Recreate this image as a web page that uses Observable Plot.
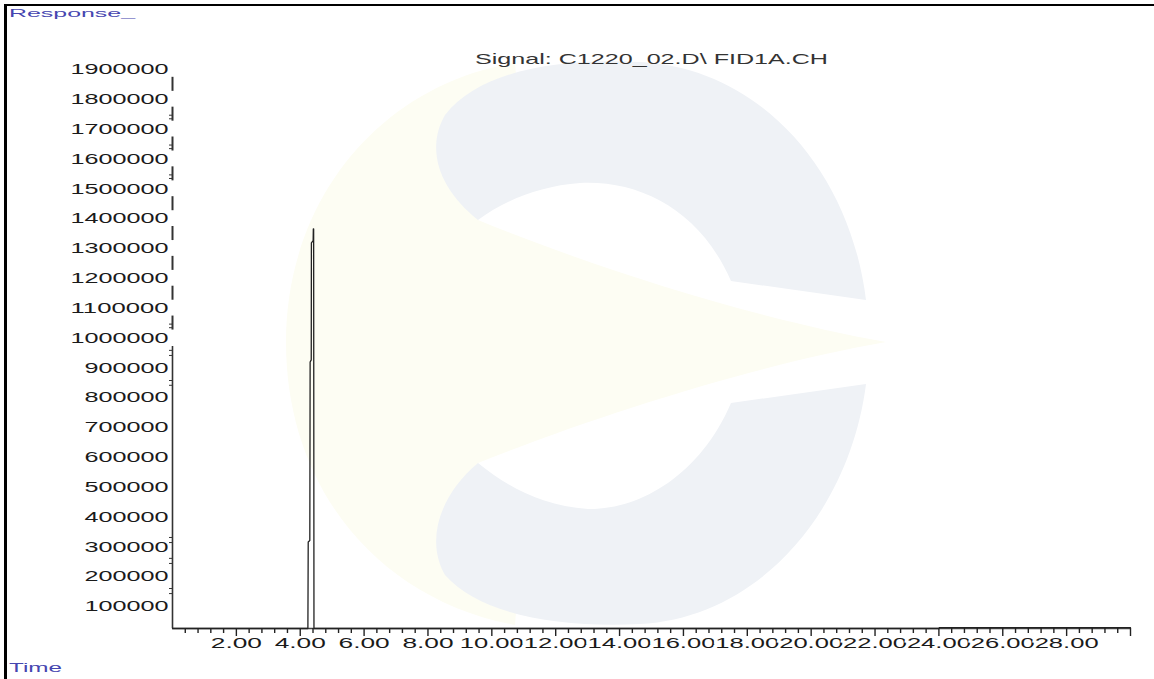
<!DOCTYPE html>
<html>
<head>
<meta charset="utf-8">
<script src="https://cdn.jsdelivr.net/npm/d3@7"></script>
<script src="https://cdn.jsdelivr.net/npm/@observablehq/plot@0.6"></script>
<style>
  html, body { margin: 0; padding: 0; overflow: hidden; background: #fff; }
  #chart svg { display: block; }
</style>
</head>
<body>
<div id="chart"></div>
<script>
// ---- data ----
const timeMin = [0, 4.24, 4.25, 4.30, 4.31, 4.345, 4.35, 4.405, 4.41, 4.42, 4.43, 24.0, 24.01, 30.0];
const responseVal = [0, 0, 290000, 295000, 893000, 900000, 1292000, 1300000, 1339000, 1339000, 0, 0, 3000, 3000];

const yTickLabels = [100000, 200000, 300000, 400000, 500000, 600000, 700000, 800000, 900000, 1000000,
  1100000, 1200000, 1300000, 1400000, 1500000, 1600000, 1700000, 1800000, 1900000];
const yAxisFragments = [1000000, 1100000, 1200000, 1300000, 1400000, 1500000, 1600000, 1700000, 1800000];
const yMinorTicks = [117000, 134000, 218000, 235000, 288000, 305000, 815000, 831000, 915000, 932000,
  1008000, 1020000, 1508000, 1520000, 1608000, 1620000, 1708000, 1720000];
const xMajorTicks = [2, 4, 6, 8, 10, 12, 14, 16, 18, 20, 22, 24, 26, 28, 30];
const xMinorTicks = d3.range(1, 75).map(i => +(i * 0.4).toFixed(1)).filter(v => Math.abs(v / 2 - Math.round(v / 2)) > 1e-6);

const titleText = "Signal: C1220_02.D\\ FID1A.CH";
const yTitle = "Response_";
const xTitle = "Time";

const signal = timeMin.map((t, i) => ({t, r: responseVal[i]}));

const chart = Plot.plot({
  width: 1154,
  height: 679,
  marginLeft: 172,
  marginRight: 24,
  marginTop: 61,
  marginBottom: 51,
  style: {fontFamily: "'Liberation Sans', Arial, sans-serif", background: "white"},
  x: {domain: [0, 30], axis: null},
  y: {domain: [0, 1900000], axis: null},
  marks: [
    Plot.ruleY([0], {x1: 0, x2: 30, stroke: "#444", strokeWidth: 1.6}),
    Plot.ruleX([0], {y1: 0, y2: 945000, stroke: "#333", strokeWidth: 1.6}),
    Plot.ruleX(yAxisFragments, {x: 0, y1: d => d, y2: d => d + 47000, stroke: "#333", strokeWidth: 2}),
    Plot.axisY(yMinorTicks, {anchor: "left", tickSize: 3, tickFormat: () => "", stroke: "#333", label: null}),
    Plot.axisY(yTickLabels, {anchor: "left", tickSize: 0, tickPadding: 4, dy: 8, fontSize: 14.5,
      fill: "#1a1a1a", tickFormat: d => String(d), label: null}),
    Plot.axisX(xMinorTicks, {anchor: "bottom", tickSize: 5, tickFormat: () => "", stroke: "#222", strokeWidth: 1.4, label: null}),
    Plot.axisX(xMajorTicks, {anchor: "bottom", tickSize: 8, tickPadding: 2, fontSize: 14, fill: "#1a1a1a",
      stroke: "#222", strokeWidth: 1.4,
      tickFormat: d => d === 30 ? "" : d3.format(".2f")(d), label: null}),
    Plot.line(signal, {x: "t", y: "r", stroke: "#222", strokeWidth: 1.3})
  ]
});

document.getElementById("chart").appendChild(chart);
const svg = d3.select(chart);

// stretch tick labels like the original bitmap
svg.selectAll('g[aria-label="x-axis tick label"] text').each(function () {
  const s = this.textContent;
  if (!s) return;
  this.setAttribute("textLength", 12.8 * s.length);
  this.setAttribute("lengthAdjust", "spacingAndGlyphs");
  this.style.paintOrder = "stroke";
  this.style.stroke = "white";
  this.style.strokeWidth = "4px";
});
svg.selectAll('g[aria-label="y-axis tick label"] text').each(function () {
  const s = this.textContent;
  if (!s) return;
  this.setAttribute("textLength", 14 * s.length);
  this.setAttribute("lengthAdjust", "spacingAndGlyphs");
});

// faint watermark behind everything
const wm = svg.insert("g", ":first-child").attr("aria-label", "watermark");
wm.append("path").attr("fill", "#fdfdf3")
  .attr("d", "M515,63 C380,85 286,200 286,342 C286,490 380,600 515,625 L520,560 L478,463 C600,414 760,364 886,342 C760,320 600,270 478,220 L520,120 Z");
wm.append("path").attr("fill", "#eff2f6")
  .attr("d", "M478,220 C440,190 425,150 445,115 C480,70 560,58 640,62 C760,68 850,170 866,300 L731,281 C700,210 640,180 580,183 C540,186 505,200 478,220 Z");
wm.append("path").attr("fill", "#eff2f6")
  .attr("d", "M478,463 C440,495 425,540 445,575 C480,615 560,628 640,624 C760,618 850,510 866,384 L731,403 C700,475 640,510 588,509 C540,506 505,485 478,463 Z");

// frame lines (top & left)
svg.append("line").attr("x1", 4).attr("x2", 1154).attr("y1", 5).attr("y2", 5).attr("stroke", "#000").attr("stroke-width", 2.2);
svg.append("line").attr("x1", 5.5).attr("x2", 5.5).attr("y1", 4).attr("y2", 679).attr("stroke", "#000").attr("stroke-width", 3);

// texts
svg.append("text").text(titleText)
  .attr("x", 475).attr("y", 64).attr("font-size", 15).attr("fill", "#333").attr("text-anchor", "start")
  .attr("textLength", 353).attr("lengthAdjust", "spacingAndGlyphs");
svg.append("text").text(yTitle)
  .attr("x", 9).attr("y", 17).attr("font-size", 11.5).attr("fill", "#4646b0").attr("text-anchor", "start")
  .attr("textLength", 126).attr("lengthAdjust", "spacingAndGlyphs");
svg.append("text").text(xTitle)
  .attr("x", 9).attr("y", 672).attr("font-size", 13).attr("fill", "#4646b0").attr("text-anchor", "start")
  .attr("textLength", 53).attr("lengthAdjust", "spacingAndGlyphs");
</script>
</body>
</html>
